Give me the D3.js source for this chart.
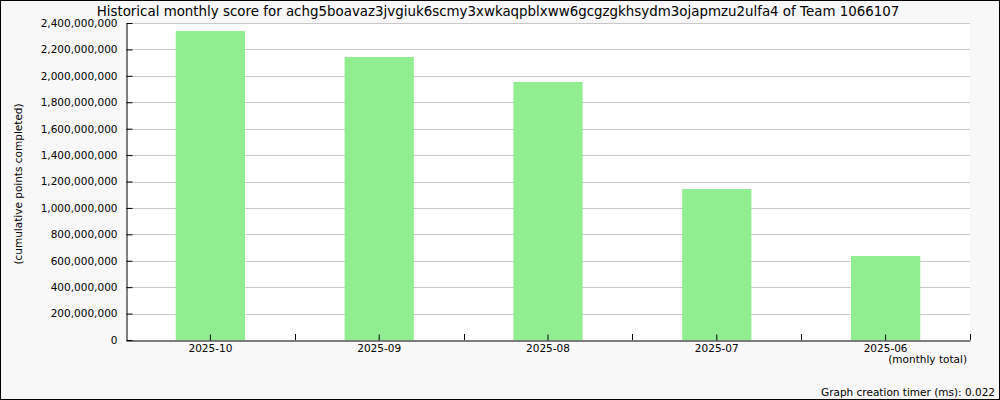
<!DOCTYPE html>
<html><head><meta charset="utf-8">
<script src="https://cdn.jsdelivr.net/npm/d3@7"></script>
<style>
html,body{margin:0;padding:0;background:#f8f8f8;}
svg{display:block;font-family:"DejaVu Sans",sans-serif;}
</style></head>
<body>
<svg id="chart" width="1000" height="400"></svg>
<script>
const titleText = "Historical monthly score for achg5boavaz3jvgiuk6scmy3xwkaqpblxww6gcgzgkhsydm3ojapmzu2ulfa4 of Team 1066107";
const months = ["2025-10","2025-09","2025-08","2025-07","2025-06"];
const scores = [2339000000, 2143000000, 1953000000, 1143000000, 636000000];
const yTicks = [0,200000000,400000000,600000000,800000000,1000000000,1200000000,1400000000,1600000000,1800000000,2000000000,2200000000,2400000000];

const W = 1000, H = 400;
const m = {left:126, right:30, top:23, bottom:60};
const FS = 10.5;
const svg = d3.select("#chart");

svg.append("rect").attr("x",0.5).attr("y",0.5).attr("width",W-1).attr("height",H-1)
  .attr("fill","#f8f8f8").attr("stroke","#000").attr("stroke-width",1);

const x = d3.scaleBand().domain(months).range([m.left, W-m.right]).paddingInner(0).paddingOuter(0);
const y = d3.scaleLinear().domain([0,2400000000]).range([H-m.bottom, m.top]);

svg.append("rect").attr("x",m.left).attr("y",m.top).attr("width",W-m.right-m.left).attr("height",H-m.bottom-m.top).attr("fill","#fff");

// gridlines
svg.append("g").selectAll("line").data(yTicks.filter(d=>d>0)).join("line")
  .attr("x1",m.left).attr("x2",W-m.right)
  .attr("y1",d=>Math.round(y(d))+0.5).attr("y2",d=>Math.round(y(d))+0.5)
  .attr("stroke","#c8c8c8").attr("stroke-width",1);

// bars
const bw = x.bandwidth()*0.41;
svg.append("g").selectAll("rect").data(months).join("rect")
  .attr("x",(d)=>x(d)+x.bandwidth()/2-bw/2)
  .attr("width",bw)
  .attr("y",(d,i)=>y(scores[i]))
  .attr("height",(d,i)=>y(0)-y(scores[i]))
  .attr("fill","#90ee90");

// y axis
const fmt = d3.format(",");
const yAxis = d3.axisLeft(y).tickValues(yTicks).tickFormat(fmt).tickSizeInner(-6).tickSizeOuter(0).tickPadding(9);
const gy = svg.append("g").attr("transform",`translate(${m.left+0.5},0)`).call(yAxis);
gy.selectAll("text").attr("font-size",FS).attr("fill","#000").attr("font-family","DejaVu Sans");
gy.selectAll("line").attr("stroke","#000");
gy.select(".domain").attr("stroke","#000");

// x axis
const xAxis = d3.axisBottom(x).tickSizeInner(-6).tickSizeOuter(0).tickPadding(4);
const gx = svg.append("g").attr("transform",`translate(0,${H-m.bottom+0.5})`).call(xAxis);
gx.selectAll("text").attr("font-size",FS).attr("fill","#000").attr("font-family","DejaVu Sans").attr("dy","0.71em").attr("y",4);
gx.selectAll("line").attr("stroke","#000");
gx.select(".domain").attr("stroke","#000");
// band boundary ticks
const bounds = months.map(d=>x(d)).concat([W-m.right]);
svg.append("g").selectAll("line").data(bounds.slice(1)).join("line")
  .attr("x1",d=>Math.round(d)+0.5).attr("x2",d=>Math.round(d)+0.5)
  .attr("y1",H-m.bottom-6).attr("y2",H-m.bottom).attr("stroke","#000");

// title
svg.append("text").attr("x",498).attr("y",16).attr("text-anchor","middle")
  .attr("font-size",13.4).attr("fill","#000").text(titleText);

// y title
svg.append("text").attr("transform",`translate(22,184) rotate(-90)`)
  .attr("text-anchor","middle").attr("font-size",FS).attr("fill","#000")
  .text("(cumulative points completed)");

svg.append("text").attr("x",967).attr("y",363).attr("text-anchor","end")
  .attr("font-size",FS).attr("fill","#000").text("(monthly total)");

svg.append("text").attr("x",995).attr("y",396).attr("text-anchor","end")
  .attr("font-size",FS).attr("fill","#000").text("Graph creation timer (ms): 0.022");
</script>
</body></html>
